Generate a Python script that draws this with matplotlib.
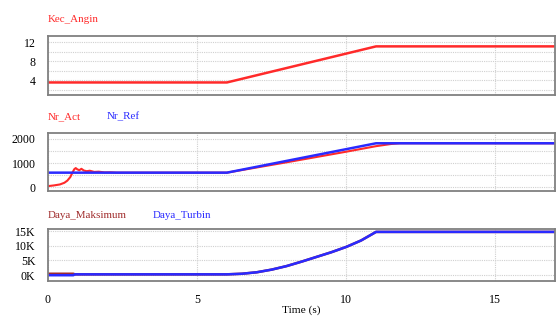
import numpy as np
import matplotlib
matplotlib.use("Agg")
import matplotlib.pyplot as plt

plt.rcParams['font.family'] = ['Liberation Serif', 'DejaVu Serif']

# Kec_Angin (wind speed)
t_wind = [0, 6, 11, 17]
kec_angin = [3.5, 3.5, 11.1, 11.1]

# Nr_Ref / Nr_Act (rotor speed)
t_ref = [0, 6, 11, 17]
nr_ref = [600, 600, 1820, 1820]
t_act = [0, 0.2, 0.4, 0.55, 0.65, 0.75, 0.82, 0.88, 0.93, 0.98, 1.05, 1.12, 1.2, 1.3,
         1.4, 1.55, 1.7, 1.9, 2.1, 2.3, 6, 8, 10, 11, 11.5, 11.8, 17]
nr_act = [40, 70, 110, 180, 270, 420, 600, 740, 790, 740, 700, 760, 690, 660,
          680, 630, 640, 610, 615, 600, 600, 1030, 1470, 1700, 1790, 1820, 1820]

# Daya_Maksimum / Daya_Turbin (power)
t_pow = [0, 0.85, 0.9, 6, 6.5, 7, 7.5, 8, 8.5, 9, 9.5, 10, 10.5, 11, 17]
daya_maks = [500, 500, 300, 300, 500, 1000, 1900, 3100, 4600, 6200, 7800, 9600, 11800, 14700, 14700]
daya_turbin = [0, 0, 300, 300, 500, 1000, 1900, 3100, 4600, 6200, 7800, 9600, 11800, 14700, 14700]

red = '#ff2a2a'
blue = '#2a2aff'
darkred = '#a02c2c'

fig = plt.figure(figsize=(5.58, 3.18), dpi=100)
left, right = 0.086, 0.9946
ax1 = fig.add_axes([left, 0.701, right - left, 0.186])
ax2 = fig.add_axes([left, 0.399, right - left, 0.183])
ax3 = fig.add_axes([left, 0.116, right - left, 0.164])

ax1.plot(t_wind, kec_angin, color=red, lw=1.8)
ax2.plot(t_act, nr_act, color=red, lw=1.5)
ax2.plot(t_ref, nr_ref, color=blue, lw=1.8)
ax3.plot(t_pow, daya_maks, color=darkred, lw=1.8)
ax3.plot(t_pow, daya_turbin, color=blue, lw=1.8)

ax1.set_ylim(0.84, 13.3)
ax1.set_yticks([4, 8, 12])
ax1.set_yticks([2, 6, 10], minor=True)
ax2.set_ylim(-167, 2250)
ax2.set_yticks([0, 1000, 2000])
ax2.set_yticks([500, 1500], minor=True)
ax3.set_ylim(-2000, 15700)
ax3.set_yticks([0, 5000, 10000, 15000])
ax3.set_yticklabels(['0K', '5K', '10K', '15K'])

for ax in (ax1, ax2, ax3):
    ax.set_xlim(0, 17)
    ax.set_xticks([0, 5, 10, 15])
    ax.grid(True, which='both', axis='y', color='#d0d0d0', ls=(0, (1, 1)), lw=0.8)
    ax.grid(True, which='major', axis='x', color='#d0d0d0', ls=(0, (1, 1)), lw=0.8)
    ax.tick_params(length=0, labelsize=8.6, pad=9, which='both')
    for s in ax.spines.values():
        s.set_color('#808080')
        s.set_linewidth(1.3)
ax1.tick_params(labelbottom=False)
ax2.tick_params(labelbottom=False)
ax3.tick_params(axis='x', pad=9)
ax3.set_xlabel('Time (s)', fontsize=8.2, labelpad=0)

fs = 7.9
fig.text(48 / 558, 1 - 20 / 318, 'Kec_Angin', color=red, fontsize=fs, va='center')
fig.text(48 / 558, 1 - 117 / 318, 'Nr_Act', color=red, fontsize=fs, va='center')
fig.text(107 / 558, 1 - 117 / 318, 'Nr_Ref', color=blue, fontsize=fs, va='center')
fig.text(48 / 558, 1 - 216 / 318, 'Daya_Maksimum', color=darkred, fontsize=fs, va='center')
fig.text(153 / 558, 1 - 216 / 318, 'Daya_Turbin', color=blue, fontsize=fs, va='center')

fig.savefig('out.png', dpi=100)
